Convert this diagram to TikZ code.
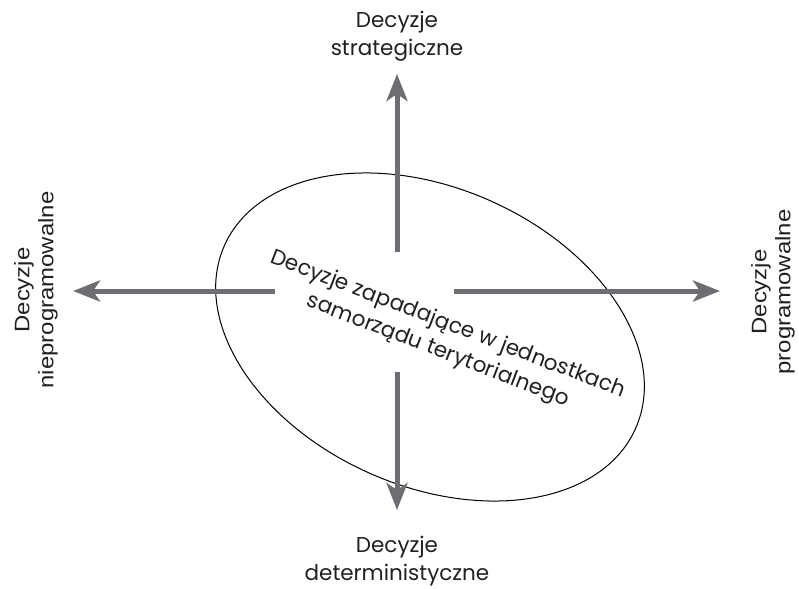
\documentclass[tikz,border=0pt]{standalone}
\usepackage{fontspec}
\usepackage{graphicx}
\setmainfont{Poppins}
\newfontfamily\sidefont{Liberation Sans}
\usetikzlibrary{arrows.meta}
\definecolor{axisgray}{HTML}{6D6E71}
\definecolor{textgray}{HTML}{231F20}
\newcommand{\widerline}[1]{\scalebox{1.14}[1]{#1}}
\tikzset{
  axisarrow/.style={draw=axisgray, line width=5pt, -{Stealth[length=27pt,width=21pt,inset=7pt]}},
  lbl/.style={font=\fontsize{21.5}{28}\selectfont, text=textgray, align=center, inner sep=0pt},
  sidelbl/.style={font=\sidefont\fontsize{21}{24}\selectfont, text=textgray, align=center, inner sep=0pt, rotate=90},
  centertext/.style={font=\fontsize{21.5}{28}\selectfont, text=textgray, align=center, inner sep=0pt}
}
\begin{document}
\begin{tikzpicture}[x=1pt,y=-1pt]
\useasboundingbox (0,0) rectangle (799,588);
% ellipse
\draw[line width=1pt, black] (430,337) ellipse[x radius=225, y radius=149, rotate=-24];
% arrow anchors
\coordinate (us) at (397,252);
\coordinate (ut) at (397,74);
\coordinate (ds) at (397,372);
\coordinate (dt) at (397,510);
\coordinate (ls) at (275,291);
\coordinate (lt) at (73,291);
\coordinate (rs) at (454,291);
\coordinate (rt) at (720,291);
\draw[axisarrow] (us) -- (ut);
\draw[axisarrow] (ds) -- (dt);
\draw[axisarrow] (ls) -- (lt);
\draw[axisarrow] (rs) -- (rt);
% labels
\node[lbl] (top) at (397,36) {Decyzje\\strategiczne};
\node[lbl] (bottom) at (397,561) {Decyzje\\deterministyczne};
\node[sidelbl] (left) at (36,290) {\widerline{Decyzje}\\\widerline{nieprogramowalne}};
\node[sidelbl] (right) at (773,292) {\widerline{Decyzje}\\\widerline{programowalne}};
\node[centertext, rotate=-21] (center) at (443,338) {Decyzje zapadające w jednostkach\\samorządu terytorialnego};
\end{tikzpicture}
\end{document}
